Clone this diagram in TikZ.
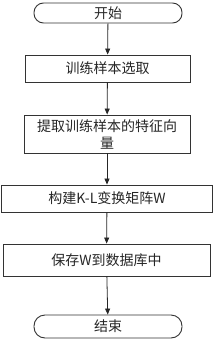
\documentclass[tikz,border=0pt]{standalone}
\usepackage{fontspec}
\setmainfont{Noto Sans CJK SC}
\usetikzlibrary{arrows.meta}
\tikzset{
  x=1pt,y=1pt,
  box/.style={draw=black!80,line width=0.9pt,fill=white,inner sep=0pt,font=\fontsize{14}{17}\selectfont,text=black!85,align=center},
  term/.style={box,rounded corners=9.5pt},
  conn/.style={draw=black!85,line width=0.8pt,-{Triangle[length=6pt,width=5pt]}}
}
\begin{document}
\begin{tikzpicture}
\useasboundingbox (0,0) rectangle (214,-340);
\node[term,minimum width=148pt,minimum height=20pt] (start) at (108,-13) {开始};
\node[box,minimum width=165pt,minimum height=27pt] (b1) at (107.5,-68.5) {训练样本选取};
\node[box,minimum width=166pt,minimum height=38pt] (b2) at (107,-134) {提取训练样本的特征向\\量};
\node[box,minimum width=211pt,minimum height=27pt] (b3) at (107,-198.5) {构建K-L变换矩阵W};
\node[box,minimum width=207pt,minimum height=32pt] (b4) at (106.5,-260) {保存W到数据库中};
\node[term,rounded corners=11pt,minimum width=148pt,minimum height=23pt] (end) at (108,-326.5) {结束};
\draw[conn] (start) -- (b1);
\draw[conn] (b1) -- (b2);
\draw[conn] (b2) -- (b3);
\draw[conn] (b3) -- (b4);
\draw[conn] (b4) -- (end);
\end{tikzpicture}
\end{document}
